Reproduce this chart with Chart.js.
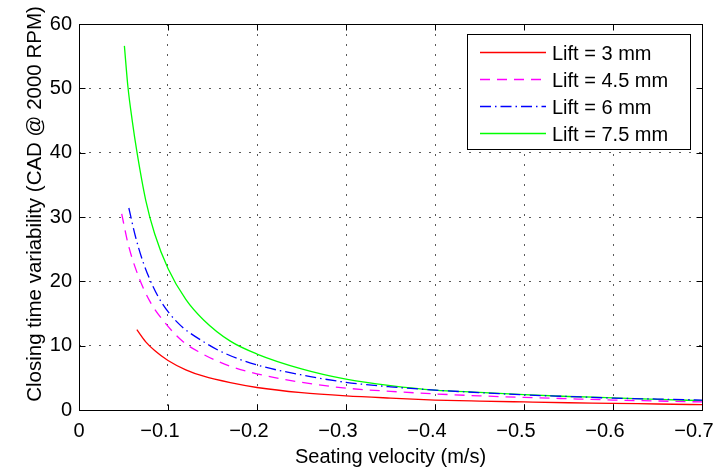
<!DOCTYPE html>
<html>
<head>
<meta charset="utf-8">
<script src="https://cdn.jsdelivr.net/npm/chart.js@4.4.1/dist/chart.umd.min.js"></script>
<style>
  html, body { margin: 0; padding: 0; background: #fff; }
</style>
</head>
<body>
<canvas id="chart" width="717" height="469"></canvas>
<script>
// seating velocity (m/s) and closing time variability
const redV = [-0.065, -0.075, -0.085, -0.1, -0.12, -0.14, -0.17, -0.2, -0.25, -0.3, -0.35, -0.4, -0.45, -0.5, -0.55, -0.6, -0.65, -0.7];
const redY = [12.5, 10.6, 9.25, 7.7, 6.25, 5.25, 4.25, 3.5, 2.7, 2.2, 1.85, 1.55, 1.38, 1.25, 1.13, 1.04, 0.93, 0.83];

const magentaV = [-0.048, -0.055, -0.067, -0.08, -0.097, -0.117, -0.137, -0.157, -0.172, -0.207, -0.25, -0.3, -0.35, -0.4, -0.45, -0.5, -0.55, -0.6, -0.65, -0.7];
const magentaY = [30.5, 25.9, 20.7, 16.8, 13.5, 10.6, 8.85, 7.5, 6.7, 5.4, 4.3, 3.4, 2.9, 2.5, 2.2, 1.95, 1.75, 1.55, 1.4, 1.25];

const blueV = [-0.056, -0.063, -0.072, -0.089, -0.11, -0.14, -0.164, -0.2, -0.26, -0.3, -0.35, -0.4, -0.45, -0.5, -0.55, -0.6, -0.65, -0.7];
const blueY = [31.4, 27.2, 23.0, 17.6, 13.7, 10.6, 8.8, 7.0, 5.2, 4.3, 3.6, 3.1, 2.7, 2.35, 2.1, 1.85, 1.7, 1.55];

const greenV = [-0.051, -0.055, -0.06, -0.065, -0.075, -0.085, -0.1, -0.12, -0.14, -0.17, -0.2, -0.25, -0.3, -0.35, -0.4, -0.45, -0.5, -0.55, -0.6, -0.65, -0.7];
const greenY = [56.6, 50.2, 44.8, 40.2, 32.6, 27.4, 22.0, 17.2, 14.0, 10.7, 8.7, 6.4, 4.8, 3.8, 3.1, 2.75, 2.4, 2.1, 1.9, 1.65, 1.45];

const seriesLabels = ['Lift = 3 mm', 'Lift = 4.5 mm', 'Lift = 6 mm', 'Lift = 7.5 mm'];
const seriesColors = ['#ff0000', '#ff00ff', '#0000ff', '#00ff00'];
const seriesDashes = [[], [10, 7], [11, 4, 1.5, 4], []];
const xTicks = [0, -0.1, -0.2, -0.3, -0.4, -0.5, -0.6, -0.7];
const xTickLabels = ['0', '\u22120.1', '\u22120.2', '\u22120.3', '\u22120.4', '\u22120.5', '\u22120.6', '\u22120.7'];
const yTicks = [0, 10, 20, 30, 40, 50, 60];

const FONT = '"Liberation Sans", Arial, Helvetica, sans-serif';

function toPoints(xs, ys) {
    return xs.map((x, i) => ({ x: x, y: ys[i] }));
}

function makeSet(i, xs, ys) {
    return {
        label: seriesLabels[i],
        data: toPoints(xs, ys),
        borderColor: seriesColors[i],
        backgroundColor: seriesColors[i],
        borderWidth: 1.3,
        borderDash: seriesDashes[i],
        pointRadius: 0,
        fill: false,
        cubicInterpolationMode: 'monotone'
    };
}

const datasets = [
    makeSet(0, redV, redY),
    makeSet(1, magentaV, magentaY),
    makeSet(2, blueV, blueY),
    makeSet(3, greenV, greenY)
];

// box, inward ticks, x labels, titles and legend in MATLAB style
const matlabFrame = {
    id: 'matlabFrame',
    afterDraw(chart) {
        const ctx = chart.ctx;
        const a = chart.chartArea;
        const xs = chart.scales.x;
        const ys = chart.scales.y;
        const L = Math.round(a.left) + 0.5, R = Math.round(a.right) + 0.5;
        const T = Math.round(a.top) + 0.5, B = Math.round(a.bottom) + 0.5;

        ctx.save();
        ctx.strokeStyle = '#000';
        ctx.lineWidth = 1;
        ctx.setLineDash([]);
        ctx.strokeRect(L, T, R - L, B - T);

        const tl = 6;
        ctx.beginPath();
        xTicks.forEach(v => {
            const px = Math.round(xs.getPixelForValue(v)) + 0.5;
            ctx.moveTo(px, B); ctx.lineTo(px, B - tl);
            ctx.moveTo(px, T); ctx.lineTo(px, T + tl);
        });
        yTicks.forEach(v => {
            const py = Math.round(ys.getPixelForValue(v)) + 0.5;
            ctx.moveTo(L, py); ctx.lineTo(L + tl, py);
            ctx.moveTo(R, py); ctx.lineTo(R - tl, py);
        });
        ctx.stroke();

        ctx.fillStyle = '#000';
        ctx.font = '20px ' + FONT;
        ctx.textAlign = 'center';
        ctx.textBaseline = 'alphabetic';
        xTicks.forEach((v, i) => {
            const px = xs.getPixelForValue(v) - (v === 0 ? 0 : 8);
            ctx.fillText(xTickLabels[i], px, 437);
        });

        ctx.fillText('Seating velocity (m/s)', (a.left + a.right) / 2, 463);

        ctx.save();
        ctx.translate(41, 204);
        ctx.rotate(-Math.PI / 2);
        ctx.font = '20.5px ' + FONT;
        ctx.fillText('Closing time variability (CAD @ 2000 RPM)', 0, 0);
        ctx.restore();

        // legend
        const lx = 467.5, ly = 34.5, lw = 223, lh = 115;
        ctx.fillStyle = '#fff';
        ctx.fillRect(lx, ly, lw, lh);
        ctx.strokeStyle = '#000';
        ctx.lineWidth = 1;
        ctx.strokeRect(lx, ly, lw, lh);
        const rows = [52.5, 79.5, 106.5, 133.5];
        seriesLabels.forEach((label, i) => {
            ctx.beginPath();
            ctx.strokeStyle = seriesColors[i];
            ctx.lineWidth = 1.5;
            ctx.setLineDash(seriesDashes[i]);
            ctx.moveTo(480, rows[i]);
            ctx.lineTo(546, rows[i]);
            ctx.stroke();
            ctx.setLineDash([]);
            ctx.fillStyle = '#000';
            ctx.textAlign = 'left';
            ctx.fillText(label, 552, rows[i] + 7);
        });
        ctx.restore();
    }
};

new Chart(document.getElementById('chart'), {
    type: 'line',
    data: { datasets: datasets },
    options: {
        responsive: false,
        animation: false,
        layout: { padding: { left: 0, right: 15, top: 24, bottom: 0 } },
        plugins: {
            legend: { display: false },
            tooltip: { enabled: false }
        },
        scales: {
            x: {
                type: 'linear',
                min: -0.7,
                max: 0,
                reverse: true,
                border: { display: false, dash: [2, 8] },
                grid: { color: 'rgba(0,0,0,0.65)', lineWidth: 1, drawTicks: false },
                ticks: { display: false, stepSize: 0.1 },
                afterFit: s => { s.height = 59; s.paddingLeft = 0; s.paddingRight = 0; }
            },
            y: {
                min: 0,
                max: 60,
                border: { display: false, dash: [2, 8] },
                grid: { color: 'rgba(0,0,0,0.65)', lineWidth: 1, drawTicks: false },
                ticks: {
                    stepSize: 10,
                    padding: 7,
                    color: '#000',
                    font: { family: FONT, size: 20 }
                },
                afterFit: s => { s.width = 79; s.paddingTop = 0; s.paddingBottom = 0; }
            }
        }
    },
    plugins: [matlabFrame]
});
</script>
</body>
</html>
